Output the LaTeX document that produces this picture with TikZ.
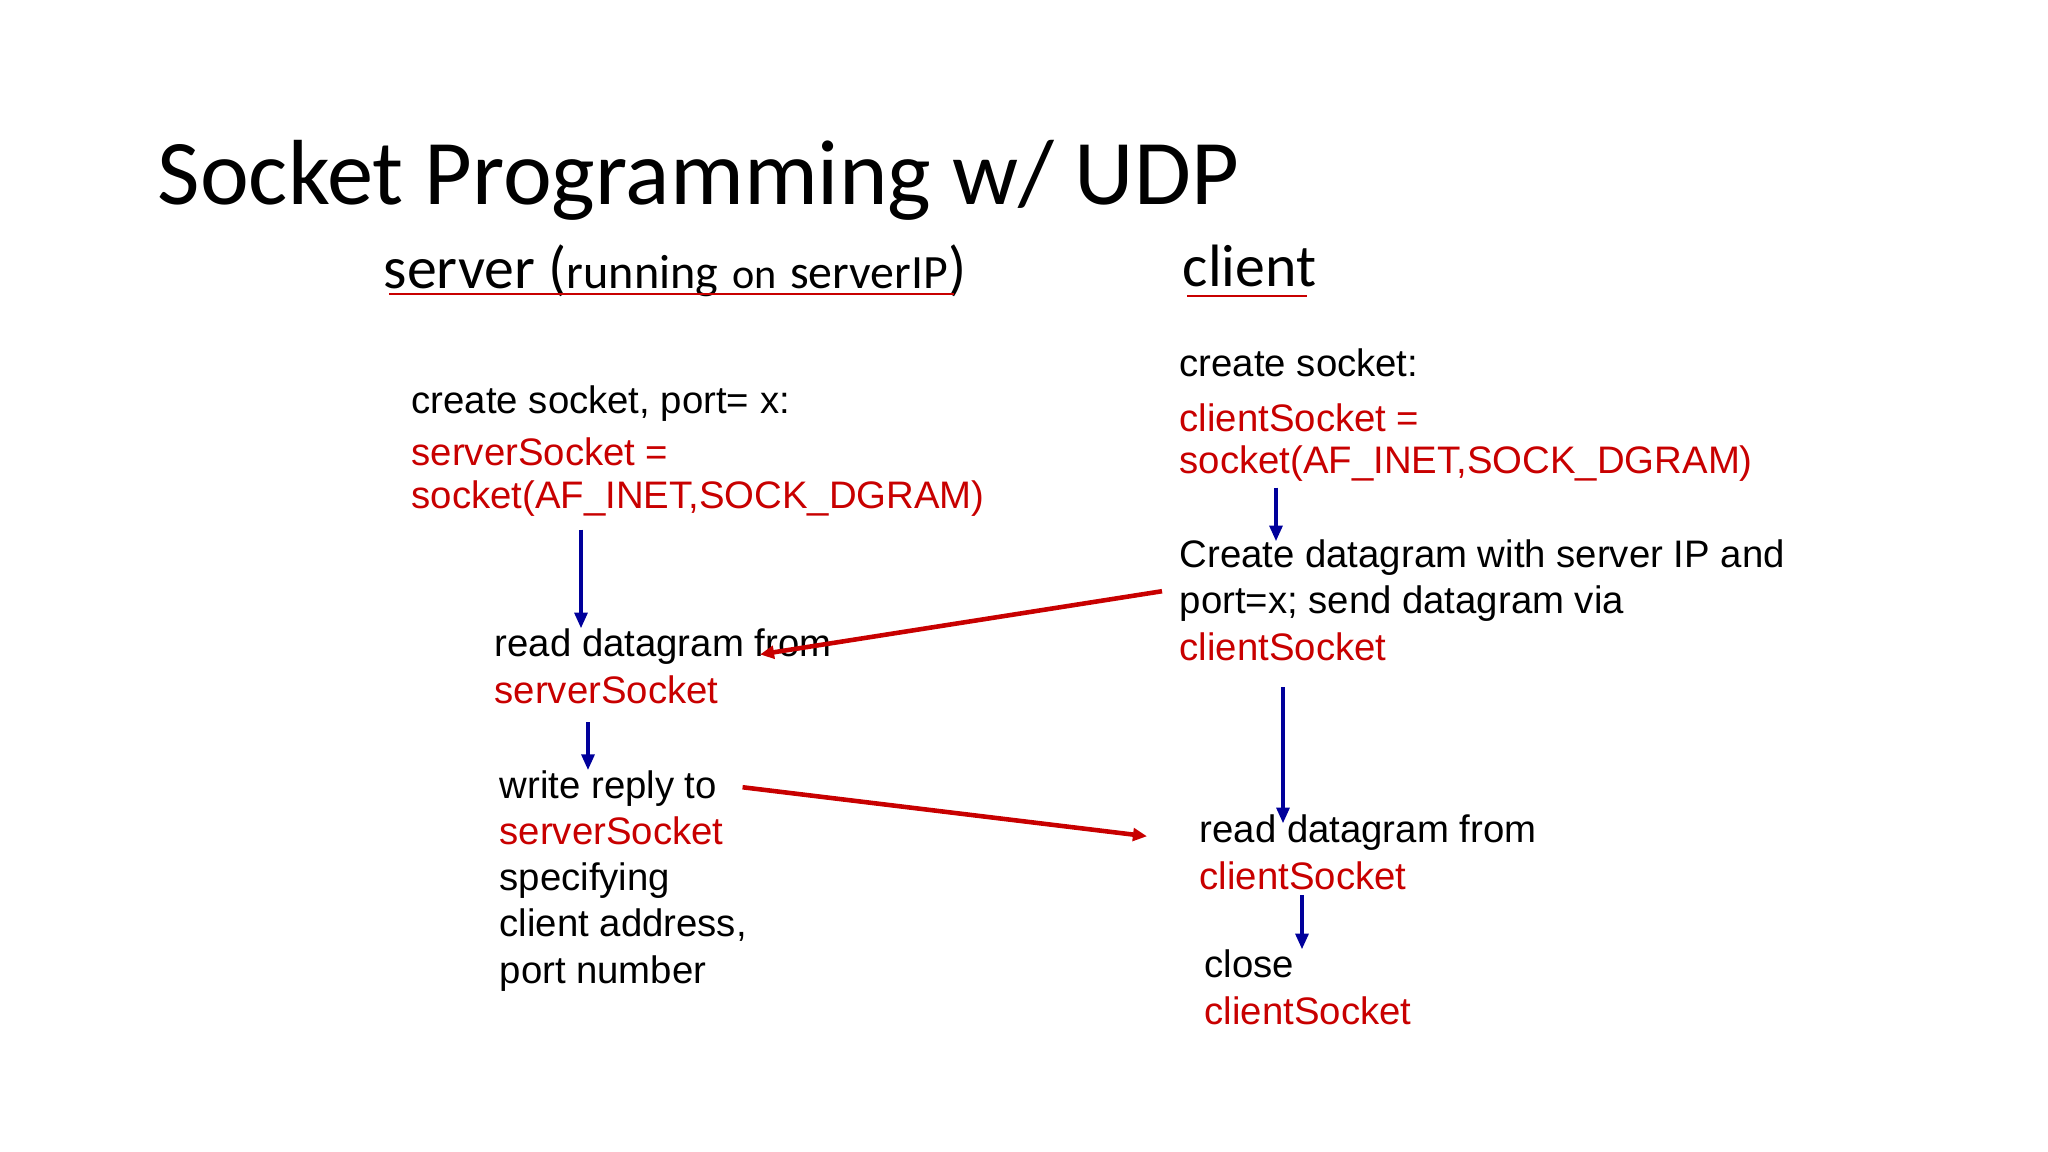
\documentclass[tikz,border=0pt]{standalone}
\usepackage{fontspec}
\setmainfont{Liberation Sans}
\newfontfamily\slidefont{Carlito}
\usetikzlibrary{arrows.meta,calc,positioning}

\definecolor{slidered}{RGB}{200,0,0}
\definecolor{slideblue}{RGB}{0,0,155}
\newcommand{\rd}[1]{\textcolor{slidered}{#1}}

\begin{document}
\begin{tikzpicture}[x=0.01cm, y=-0.01cm,
    txt/.style={anchor=base west, inner sep=0, align=left, font=\fontsize{10.9}{13.1}\selectfont},
    head/.style={anchor=base west, inner sep=0, font=\slidefont\fontsize{17}{20}\selectfont},
    flow/.style={slideblue, line width=1.1pt, -{Triangle[length=4.5pt,width=3.6pt]}},
    msg/.style={slidered, line width=1.3pt, -{Triangle[length=4pt,width=3.6pt]}}]
  \useasboundingbox (0,0) rectangle (2048,1152);
  \node (title) at (157,205) [anchor=base west, inner sep=0, font=\slidefont\fontsize{26.3}{30}\selectfont] {Socket Programming w/ UDP};
  \node (srvhead) at (383,289) [head] {server ({\fontsize{13.7}{16}\selectfont running} {\fontsize{12}{14}\selectfont on} {\fontsize{13.6}{16}\selectfont serverIP})};
  \node (clihead) at (1182,287) [head] {client};
  \draw[slidered, line width=0.8pt] ($(srvhead.base west)+(6,5)$) -- ($(srvhead.base east)+(-13,5)$);
  \draw[slidered, line width=0.8pt] ($(clihead.base west)+(5,9)$) -- ($(clihead.base east)+(-10,9)$);
  % server side
  \node (srvsock) at (411,509) [txt] {create socket, port= x:\\[1.7pt]\rd{serverSocket =}\\[-0.85pt]\rd{socket(AF\_INET,SOCK\_DGRAM)}};
  \node (rdsrv) at (494,703) [txt] {read datagram from\\\rd{serverSocket}};
  \node (wrsrv) at (499,983) [txt] {write reply to\\\rd{serverSocket}\\specifying\\client address,\\port number};
  % client side
  \node (clisock) at (1179,474) [txt] {create socket:\\[2.6pt]\rd{clientSocket =}\\[-1.1pt]\rd{socket(AF\_INET,SOCK\_DGRAM)}};
  \node (sendcli) at (1179,660) [txt] {Create datagram with server IP and\\port=x; send datagram via\\\rd{clientSocket}};
  \node (rdcli) at (1199,889) [txt] {read datagram from\\\rd{clientSocket}};
  \node (closecli) at (1204,1024) [txt] {close\\\rd{clientSocket}};
  % flow
  \draw[flow] ($(srvsock.south west)+(170,12)$) coordinate (s1) -- (s1 |- rdsrv.north);
  \draw[flow] ($(rdsrv.south west)+(94,18)$) coordinate (s2) -- (s2 |- wrsrv.north);
  \draw[flow] ($(clisock.south west)+(97,5)$) coordinate (c1) -- ($(c1 |- sendcli.north)+(0,2)$);
  \draw[flow] ($(sendcli.south west)+(104,26)$) coordinate (c2) -- ($(c2 |- rdcli.north)+(0,9)$);
  \draw[flow] ($(rdcli.south west)+(103,5)$) coordinate (c3) -- (c3 |- closecli.north);
  \draw[msg] ($(sendcli.west)+(-17,-9)$) -- ($(rdsrv.north west)+(266,26)$);
  \draw[msg] ($(wrsrv.north east)+(-5,17)$) -- ($(rdcli.west)+(-52,-16)$);
\end{tikzpicture}
\end{document}
